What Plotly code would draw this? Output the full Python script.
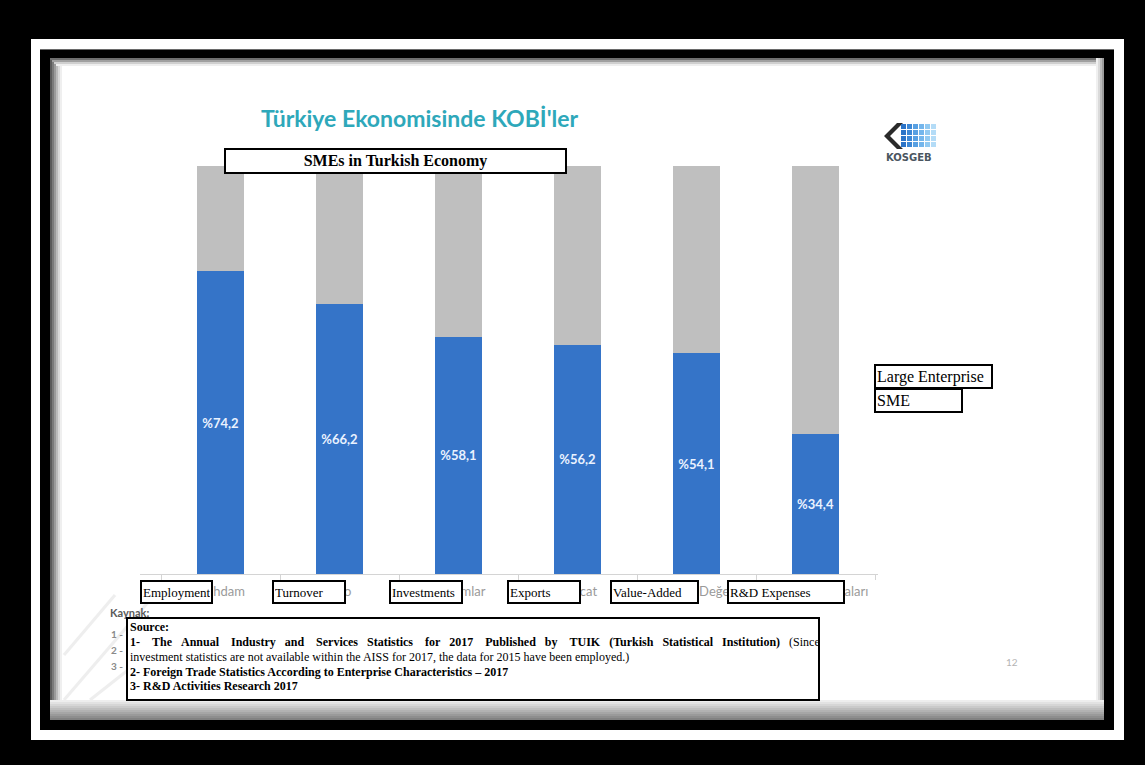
import plotly.graph_objects as go

# ---------------- data ----------------
categories_tr = ["İstihdam", "Ciro", "Yatırımlar", "İhracat", "Katma Değer", "Ar-Ge Harcamaları"]
categories_en = ["Employment", "Turnover", "Investments", "Exports", "Value-Added", "R&D Expenses"]
sme_share = [74.2, 66.2, 58.1, 56.2, 54.1, 34.4]
large_share = [25.8, 33.8, 41.9, 43.8, 45.9, 65.6]
sme_labels = ["%74,2", "%66,2", "%58,1", "%56,2", "%54,1", "%34,4"]
series_names = ["SME", "Large Enterprise"]
title_tr = "Türkiye Ekonomisinde KOBİ'ler"
title_en = "SMEs in Turkish Economy"

# ---------------- geometry helpers ----------------
W, H = 1145, 765
L, R, T, B = 161, 875, 166, 574


def px(x):
    return (x - L) / (R - L)


def py(y):
    return (B - y) / (B - T)


fig = go.Figure()
fig.add_trace(go.Bar(
    x=categories_tr, y=sme_share, name=series_names[0],
    marker=dict(color="#3574c8", line=dict(width=0)),
    text=sme_labels, textposition="inside", insidetextanchor="middle",
    textfont=dict(family="Lato", size=13, color="#eaf2ff", weight="bold"),
    constraintext="none", hoverinfo="x+y",
))
fig.add_trace(go.Bar(
    x=categories_tr, y=large_share, name=series_names[1],
    marker=dict(color="#bfbfbf", line=dict(width=0)), hoverinfo="x+y",
))

shapes = []


def rect(x0, y0, x1, y1, fill, layer="below"):
    shapes.append(dict(type="rect", xref="paper", yref="paper",
                       x0=px(x0), x1=px(x1), y0=py(y0), y1=py(y1),
                       fillcolor=fill, line=dict(width=0), layer=layer))


def line(x0, y0, x1, y1, color, width=1, layer="below"):
    shapes.append(dict(type="line", xref="paper", yref="paper",
                       x0=px(x0), x1=px(x1), y0=py(y0), y1=py(y1),
                       line=dict(color=color, width=width), layer=layer))


# frames
rect(31, 39, 1124, 740, "white")
rect(40, 49, 1114, 730, "black")
line(40, 49.5, 1114, 49.5, "#6a6a6a")
rect(50, 58, 1104, 720, "white")

# faint decoration bottom-left
for (a, b, c, d) in [(64, 700, 150, 600), (64, 655, 115, 595), (90, 700, 185, 625)]:
    line(a, b, c, d, "#eeeeee", 3)

# edge shading of the slide
left_cols = ["#5a5a5a", "#7a7a7a", "#9a9a9a", "#bababa", "#d8d8d8", "#efefef"]
for i, c in enumerate(left_cols):
    rect(50 + 2 * i, 58, 52 + 2 * i, 705, c)
top_cols = ["#6e6e6e", "#a0a0a0", "#cfcfcf", "#eeeeee"]
for i, c in enumerate(top_cols):
    rect(50 + 2 * i, 58 + 2 * i, 1104, 60 + 2 * i, c)
right_cols = ["#f0f0f0", "#dadada", "#bcbcbc", "#9c9c9c"]
for i, c in enumerate(right_cols):
    rect(1096 + 2 * i, 58, 1098 + 2 * i, 705, c)
bottom_cols = ["#eeeeee", "#e2e2e2", "#d6d6d6", "#cacaca", "#bebebe", "#b2b2b2", "#a6a6a6", "#9a9a9a", "#8e8e8e", "#828282"]
for i, c in enumerate(bottom_cols):
    rect(50, 700 + 2 * i, 1104, 702 + 2 * i, c)

# extended axis baseline
line(140, 574.5, 878, 574.5, "#d4d4d4")

# logo
chev = [(897, 123), (884, 136), (897, 149), (903, 149), (890, 136), (903, 123)]
path = "M " + " L ".join(f"{px(x)},{py(y)}" for x, y in chev) + " Z"
shapes.append(dict(type="path", xref="paper", yref="paper", path=path,
                   fillcolor="#2a2a2a", line=dict(width=0), layer="below"))
grid_cols = ["#2b74c8", "#3d88d6", "#58a0e2", "#74b6ec", "#92caf2", "#b4dcf7"]
for ci, c in enumerate(grid_cols):
    for ri in range(4):
        rect(901 + 6 * ci, 124 + 6 * ri, 906 + 6 * ci, 129 + 6 * ri, c)

annotations = []


def text(t, x, y, size, color, family="Liberation Serif", xanchor="left", yanchor="middle"):
    annotations.append(dict(text=t, xref="paper", yref="paper", x=px(x), y=py(y),
                            xanchor=xanchor, yanchor=yanchor, showarrow=False,
                            font=dict(family=family, size=size, color=color)))


def box(t, x0, y0, x1, y1, size, align="left", valign="middle", bw=2, pad=1):
    full = bw + pad
    annotations.append(dict(text=t, xref="paper", yref="paper", x=px(x0), y=py(y0),
                            xanchor="left", yanchor="top",
                            width=(x1 - x0) - 2 * full, height=(y1 - y0) - 2 * full,
                            align=align, valign=valign, bgcolor="white",
                            bordercolor="black", borderwidth=bw, borderpad=pad,
                            showarrow=False,
                            font=dict(family="Liberation Serif", size=size, color="black")))


# slide title and decorations
text("<b>" + title_tr + "</b>", 420, 118, 23, "#2ea8ba", family="Lato", xanchor="center")
text("<b>KOSGEB</b>", 909, 157, 10, "#4a5560", family="DejaVu Sans", xanchor="center")
text("12", 1012, 662, 10, "#b4b4b4", family="Lato", xanchor="center")
text("<b>Kaynak:</b>", 108, 612, 11, "#5a5a5a", family="Lato")
for k, yy in zip(["1 -", "2 -", "3 -"], [634, 650, 666]):
    text("<b>" + k + "</b>", 109, yy, 10, "#8a8a8a", family="Lato")

# boxes
box("<b>" + title_en + "</b>", 224, 148, 567, 174, 16, align="center")
cat_boxes = [(140, 213), (272, 346), (389, 463), (507, 581), (610, 699), (727, 845)]
for name, (a, b) in zip(categories_en, cat_boxes):
    box(name, a, 580, b, 604, 13)
box(series_names[1], 874, 364, 993, 389, 16)
box(series_names[0], 874, 388, 963, 413, 16)

# source box
box(" ", 126, 617, 820, 701, 12)
g2 = " \u00a0\u00a0"
g3 = " \u00a0\u00a0\u00a0"
words = ["1-", "The", "Annual", "Industry", "and", "Services", "Statistics", "for", "2017",
         "Published", "by", "TUIK", "(Turkish", "Statistical", "Institution)"]
gaps = [g3, g2, g3, g2, g3, g2, g3, g2, g3, g2, g3, g2, g2, g2]
line1 = words[0]
for w, g in zip(words[1:], gaps):
    line1 += g + w
line1 = "<b>" + line1 + "</b>" + g2 + "(Since"
src_lines = [
    "<b>Source:</b>",
    line1,
    "investment statistics are not available within the AISS for 2017, the data for 2015 have been employed.)",
    "<b>2- Foreign Trade Statistics According to Enterprise Characteristics \u2013 2017</b>",
    "<b>3- R&D Activities Research 2017</b>",
]
for t, yy in zip(src_lines, [627, 641.5, 656.5, 671.5, 686]):
    text(t, 128, yy, 12, "black")

fig.update_layout(
    width=W, height=H,
    margin=dict(l=L, r=W - R, t=T, b=H - B, pad=0),
    paper_bgcolor="black", plot_bgcolor="rgba(0,0,0,0)",
    barmode="stack", bargap=0.597, showlegend=False,
    shapes=shapes, annotations=annotations,
    xaxis=dict(type="category", showline=True, linecolor="#d4d4d4", linewidth=1,
               ticks="outside", tickson="boundaries", ticklen=5, tickcolor="#d4d4d4",
               ticklabelstandoff=5,
               tickfont=dict(family="Lato", size=13, color="#9a9a9a"),
               showgrid=False, zeroline=False, fixedrange=True),
    yaxis=dict(range=[0, 100], visible=False, fixedrange=True),
)

fig.write_html("out.html")
